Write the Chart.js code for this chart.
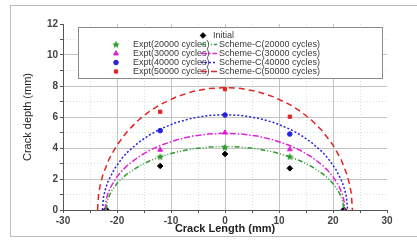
<!DOCTYPE html>
<html>
<head>
<meta charset="utf-8">
<script src="https://cdn.jsdelivr.net/npm/chart.js@4"></script>
<style>
  html, body { margin: 0; padding: 0; background: #fff; }
  #wrap { position: relative; width: 417px; height: 240px; overflow: hidden; }
  #frame { position: absolute; left: 10px; top: 5px; width: 420px; height: 232px;
           border: 1px solid #bdbdbd; box-sizing: border-box; pointer-events: none; }
</style>
</head>
<body>
<div id="wrap">
  <canvas id="chart" width="417" height="240"></canvas>
  <div id="frame"></div>
</div>
<script>
// Experimental points
const exptX = [-22, -12, 0, 12, 22];
const initialY = [0, 2.84, 3.61, 2.69, 0];
const expt20Y = [0, 3.44, 4.04, 3.44, 0];
const expt30Y = [0, 3.88, 4.99, 3.91, 0];
const expt40Y = [0, 5.12, 6.13, 4.90, 0];
const expt50Y = [0, 6.34, 7.79, 6.02, 0];

// Scheme-C curves
const scheme20X = [-22, -21.8, -21.5, -21, -20, -19, -18, -16, -14, -12, -9, -6, -3, 0, 3, 6, 9, 12, 14, 16, 18, 19, 20, 21, 21.5, 21.8, 22];
const scheme20Y = [0, 0.55, 0.87, 1.22, 1.71, 2.07, 2.36, 2.81, 3.16, 3.44, 3.74, 3.94, 4.06, 4.1, 4.06, 3.94, 3.74, 3.44, 3.16, 2.81, 2.36, 2.07, 1.71, 1.22, 0.87, 0.55, 0];
const scheme30X = [-22.2, -22, -21.7, -21.2, -20, -19, -18, -16, -14, -12, -9, -6, -3, 0, 3, 6, 9, 12, 14, 16, 18, 19, 20, 21.2, 21.7, 22, 22.2];
const scheme30Y = [0, 0.66, 1.04, 1.47, 2.15, 2.56, 2.90, 3.43, 3.84, 4.16, 4.52, 4.77, 4.90, 4.95, 4.90, 4.77, 4.52, 4.16, 3.84, 3.43, 2.90, 2.56, 2.15, 1.47, 1.04, 0.66, 0];
const scheme40X = [-22.7, -22.5, -22.2, -21.7, -20.5, -19, -18, -16, -14, -12, -9, -6, -3, 0, 3, 6, 9, 12, 14, 16, 18, 19, 20.5, 21.7, 22.2, 22.5, 22.7];
const scheme40Y = [0, 0.81, 1.28, 1.81, 2.64, 3.37, 3.75, 4.36, 4.84, 5.22, 5.65, 5.93, 6.10, 6.15, 6.10, 5.93, 5.65, 5.22, 4.84, 4.36, 3.75, 3.37, 2.64, 1.81, 1.28, 0.81, 0];
const scheme50X = [-23.6, -23.4, -23.1, -22.6, -21.5, -20, -18, -16, -14, -12, -9, -6, -3, 0, 3, 6, 9, 12, 14, 16, 18, 20, 21.5, 22.6, 23.1, 23.4, 23.6];
const scheme50Y = [0, 1.03, 1.62, 2.28, 3.26, 4.19, 5.11, 5.81, 6.36, 6.80, 7.30, 7.64, 7.84, 7.9, 7.84, 7.64, 7.30, 6.80, 6.36, 5.81, 5.11, 4.19, 3.26, 2.28, 1.62, 1.03, 0];

const xTicks = [-30, -20, -10, 0, 10, 20, 30];
const yTicks = [0, 2, 4, 6, 8, 10, 12];

const GREEN = '#2f9a2f', MAGENTA = '#e020d8', BLUE = '#2424e0', RED = '#e02424', BLACK = '#000';
const FONT = "'Liberation Sans', Arial, sans-serif";

const zip = (xs, ys) => xs.map((x, i) => ({ x, y: ys[i] }));

// filled five-point star marker
function starImage(color) {
    const c = document.createElement('canvas');
    c.width = 8; c.height = 8;
    const g = c.getContext('2d');
    g.fillStyle = color;
    g.beginPath();
    for (let i = 0; i < 10; i++) {
        const r = i % 2 === 0 ? 4 : 1.8;
        const a = -Math.PI / 2 + i * Math.PI / 5;
        g.lineTo(4 + r * Math.cos(a), 4.3 + r * Math.sin(a));
    }
    g.closePath();
    g.fill();
    return c;
}
const star = starImage(GREEN);

function lineSet(label, xs, ys, color, dash) {
    return { label, data: zip(xs, ys), showLine: true, borderColor: color, borderWidth: 1.5,
             borderDash: dash, pointRadius: 0, fill: false, tension: 0 };
}
function pointSet(label, ys, color, style, r) {
    return { label, data: zip(exptX, ys), showLine: false, pointStyle: style, pointRadius: r,
             backgroundColor: color, borderColor: color, borderWidth: 1 };
}

const datasets = [
    lineSet('Scheme-C(20000 cycles)', scheme20X, scheme20Y, GREEN, [5, 2, 1, 2, 1, 2]),
    lineSet('Scheme-C(30000 cycles)', scheme30X, scheme30Y, MAGENTA, [6, 2, 1.5, 2]),
    lineSet('Scheme-C(40000 cycles)', scheme40X, scheme40Y, BLUE, [2, 2]),
    lineSet('Scheme-C(50000 cycles)', scheme50X, scheme50Y, RED, [6, 4]),
    pointSet('Initial', initialY, BLACK, 'rectRot', 2.8),
    pointSet('Expt(20000 cycles)', expt20Y, GREEN, star, 3),
    pointSet('Expt(30000 cycles)', expt30Y, MAGENTA, 'triangle', 2.8),
    pointSet('Expt(40000 cycles)', expt40Y, BLUE, 'circle', 2.3),
    pointSet('Expt(50000 cycles)', expt50Y, RED, 'rect', 2.3)
];

// legend box drawn inside the plot
const insideLegend = {
    id: 'insideLegend',
    afterDraw(chart) {
        const ctx = chart.ctx;
        const ds = chart.data.datasets;
        ctx.save();
        ctx.fillStyle = '#fff';
        ctx.strokeStyle = '#8a8a8a';
        ctx.lineWidth = 1;
        ctx.fillRect(78.5, 27.5, 304, 51);
        ctx.strokeRect(78.5, 27.5, 304, 51);
        ctx.font = '9px ' + FONT;
        ctx.textBaseline = 'middle';

        const mark = (d, x, y) => {
            Chart.helpers.drawPoint(ctx, {
                pointStyle: d.pointStyle, radius: d.pointRadius, rotation: 0, borderWidth: 1
            }, x, y);
        };
        ctx.fillStyle = BLACK; ctx.strokeStyle = BLACK;
        mark(ds[4], 203, 35.5);
        ctx.fillStyle = '#3a3a3a';
        ctx.fillText(ds[4].label, 213, 36);

        const rows = [44.5, 53.5, 62.5, 71.5];
        for (let i = 0; i < 4; i++) {
            const p = ds[5 + i], l = ds[i], y = rows[i];
            ctx.fillStyle = p.backgroundColor; ctx.strokeStyle = p.borderColor;
            mark(p, 116, y);
            ctx.fillStyle = '#3a3a3a';
            ctx.fillText(p.label, 133, y + 0.5);
            ctx.strokeStyle = l.borderColor;
            ctx.lineWidth = 1.5;
            ctx.setLineDash(l.borderDash);
            ctx.beginPath();
            ctx.moveTo(201, y); ctx.lineTo(217, y);
            ctx.stroke();
            ctx.setLineDash([]);
            ctx.lineWidth = 1;
            ctx.fillText(l.label, 219, y + 0.5);
        }
        ctx.restore();
    }
};

const gridColor = (ctx, max) => {
    const v = ctx.tick ? ctx.tick.value : 0;
    if (v === max) return 'rgba(0,0,0,0)';
    return v % (max === 30 ? 10 : 2) === 0 ? '#c4c4c4' : '#d6e2d6';
};
const gridDash = (ctx, major) => {
    const v = ctx.tick ? ctx.tick.value : 0;
    return v % major === 0 ? [] : [1, 2];
};

new Chart(document.getElementById('chart'), {
    type: 'scatter',
    data: { datasets },
    plugins: [insideLegend],
    options: {
        responsive: false,
        animation: false,
        layout: { padding: { left: 12, right: 30, top: 24, bottom: 4 } },
        plugins: { legend: { display: false }, tooltip: { enabled: false } },
        scales: {
            x: {
                type: 'linear', min: -30, max: 30,
                afterBuildTicks: s => { s.ticks = []; for (let v = -30; v <= 30; v += 5) s.ticks.push({ value: v }); },
                afterFit: s => { s.height = 26; },
                ticks: {
                    font: { family: FONT, size: 10, weight: 'bold' }, color: '#444', padding: 2,
                    maxRotation: 0, autoSkip: false,
                    callback: v => xTicks.includes(v) ? String(v) : ''
                },
                grid: { color: c => gridColor(c, 30), lineWidth: 1, tickLength: 3, tickColor: '#555' },
                border: { display: true, color: '#555', width: 1, dash: c => gridDash(c, 10) },
                title: { display: true, text: 'Crack Length (mm)', font: { family: FONT, size: 11, weight: 'bold' },
                         color: '#222', padding: { top: -2, bottom: 0 } }
            },
            y: {
                type: 'linear', min: 0, max: 12,
                afterBuildTicks: s => { s.ticks = []; for (let v = 0; v <= 12; v += 1) s.ticks.push({ value: v }); },
                afterFit: s => { s.width = 51; },
                ticks: {
                    font: { family: FONT, size: 10, weight: 'bold' }, color: '#444', padding: 2,
                    autoSkip: false,
                    callback: v => yTicks.includes(v) ? String(v) : ''
                },
                grid: { color: c => gridColor(c, 12), lineWidth: 1, tickLength: 3, tickColor: '#555' },
                border: { display: true, color: '#555', width: 1, dash: c => gridDash(c, 2) },
                title: { display: true, text: 'Crack depth (mm)', font: { family: FONT, size: 11 },
                         color: '#222', padding: { top: 9, bottom: 2 } }
            }
        }
    }
});
</script>
</body>
</html>
